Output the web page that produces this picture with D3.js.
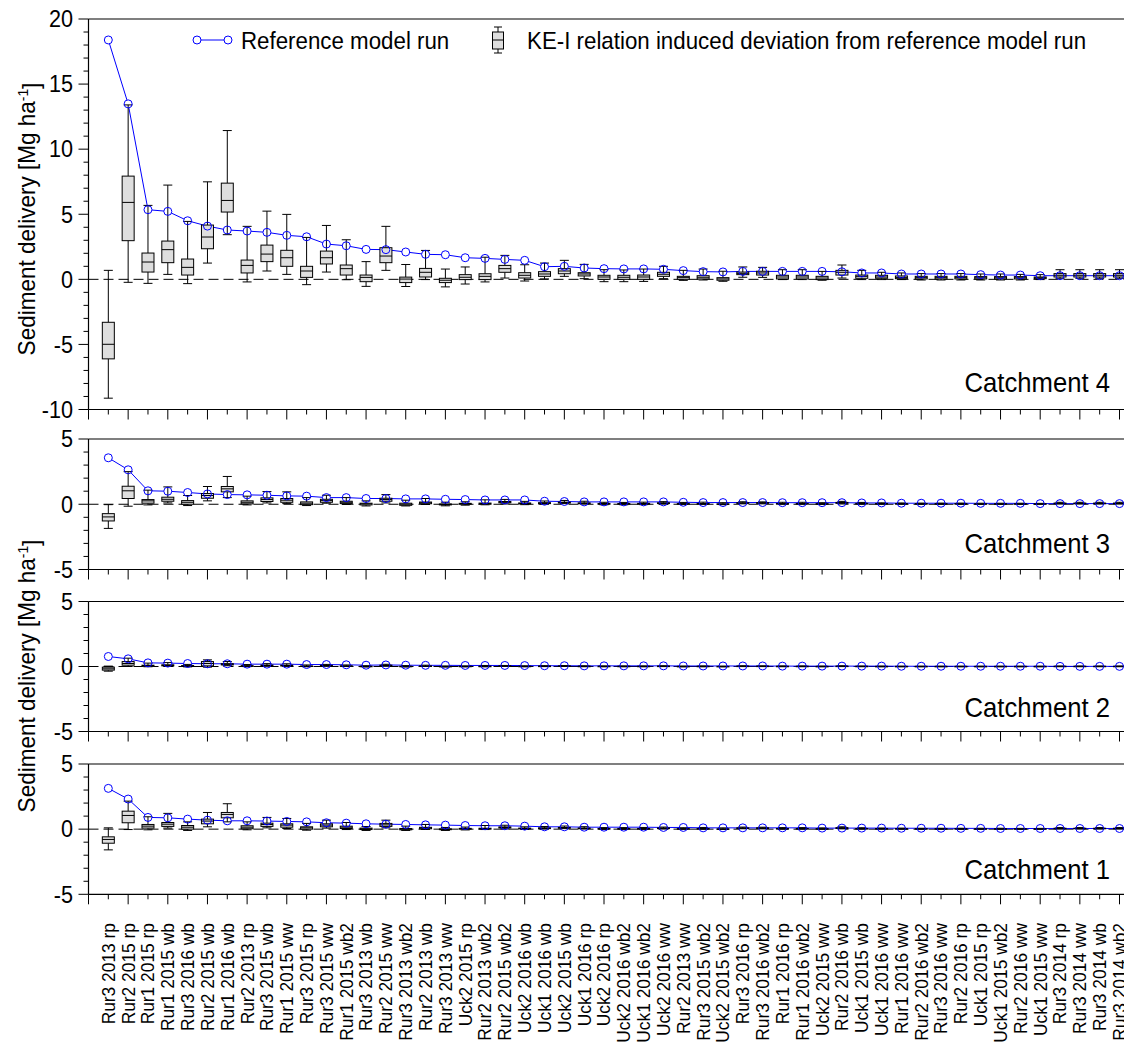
<!DOCTYPE html>
<html>
<head>
<meta charset="utf-8">
<script src="https://cdn.jsdelivr.net/npm/d3@7"></script>
<style>
  html, body { margin: 0; padding: 0; background: #fff; }
  svg { display: block; }
  text { font-family: "Liberation Sans", Arial, sans-serif; fill: #000; }
</style>
</head>
<body>
<svg id="chart" width="1124" height="1043"></svg>
<script>
// Crop/field labels along the shared x axis
const categories = [
  "Rur3 2013 rp", "Rur2 2015 rp", "Rur1 2015 rp", "Rur1 2015 wb", "Rur3 2016 wb",
  "Rur2 2015 wb", "Rur1 2016 wb", "Rur2 2013 rp", "Rur3 2015 wb", "Rur1 2015 ww",
  "Rur3 2015 rp", "Rur3 2015 ww", "Rur1 2015 wb2", "Rur3 2013 wb", "Rur2 2015 ww",
  "Rur3 2013 wb2", "Rur2 2013 wb", "Rur3 2013 ww", "Uck2 2015 rp", "Rur2 2013 wb2",
  "Rur2 2015 wb2", "Uck2 2016 wb", "Uck1 2016 wb", "Uck2 2015 wb", "Uck1 2016 rp",
  "Uck2 2016 rp", "Uck2 2016 wb2", "Uck1 2016 wb2", "Uck2 2016 ww", "Rur2 2013 ww",
  "Rur3 2015 wb2", "Uck2 2015 wb2", "Rur3 2016 rp", "Rur3 2016 wb2", "Rur1 2016 rp",
  "Rur1 2016 wb2", "Uck2 2015 ww", "Rur2 2016 wb", "Uck1 2015 wb", "Uck1 2016 ww",
  "Rur1 2016 ww", "Rur2 2016 wb2", "Rur3 2016 ww", "Rur2 2016 rp", "Uck1 2015 rp",
  "Uck1 2015 wb2", "Rur2 2016 ww", "Uck1 2015 ww", "Rur3 2014 rp", "Rur3 2014 ww",
  "Rur3 2014 wb", "Rur3 2014 wb2"
];

const panelNames = ["Catchment 4", "Catchment 3", "Catchment 2", "Catchment 1"];

// Reference model run, sediment delivery [Mg ha-1]
const refC4 = [18.39, 13.48, 5.35, 5.22, 4.50, 4.09, 3.79, 3.71, 3.61, 3.38, 3.27, 2.71, 2.58, 2.30, 2.28, 2.10,
  1.92, 1.89, 1.66, 1.61, 1.53, 1.46, 0.97, 1.00, 0.87, 0.82, 0.80, 0.80, 0.77, 0.67, 0.59, 0.57,
  0.61, 0.61, 0.61, 0.61, 0.61, 0.58, 0.49, 0.49, 0.41, 0.41, 0.41, 0.41, 0.36, 0.33, 0.33, 0.28,
  0.28, 0.28, 0.28, 0.28];
const refC3 = [3.56, 2.64, 1.03, 1.00, 0.90, 0.79, 0.74, 0.72, 0.69, 0.64, 0.62, 0.51, 0.51, 0.44, 0.44, 0.41,
  0.41, 0.38, 0.36, 0.33, 0.33, 0.33, 0.23, 0.21, 0.18, 0.18, 0.18, 0.18, 0.18, 0.15, 0.13, 0.13,
  0.13, 0.13, 0.12, 0.12, 0.12, 0.12, 0.10, 0.10, 0.08, 0.08, 0.08, 0.08, 0.07, 0.07, 0.07, 0.05,
  0.05, 0.05, 0.05, 0.05];
const refC2 = [0.77, 0.59, 0.28, 0.26, 0.23, 0.21, 0.21, 0.18, 0.18, 0.18, 0.15, 0.15, 0.13, 0.10, 0.12, 0.10,
  0.09, 0.09, 0.08, 0.08, 0.08, 0.07, 0.06, 0.06, 0.05, 0.05, 0.05, 0.05, 0.05, 0.04, 0.04, 0.04,
  0.04, 0.04, 0.03, 0.03, 0.03, 0.03, 0.03, 0.03, 0.02, 0.02, 0.02, 0.02, 0.02, 0.02, 0.02, 0.02,
  0.01, 0.01, 0.01, 0.01];
const refC1 = [3.13, 2.31, 0.90, 0.87, 0.77, 0.69, 0.64, 0.64, 0.62, 0.59, 0.56, 0.49, 0.46, 0.41, 0.38, 0.36,
  0.33, 0.31, 0.28, 0.26, 0.26, 0.23, 0.18, 0.18, 0.15, 0.15, 0.15, 0.15, 0.13, 0.13, 0.10, 0.10,
  0.10, 0.10, 0.10, 0.10, 0.08, 0.08, 0.08, 0.08, 0.07, 0.07, 0.07, 0.06, 0.06, 0.05, 0.05, 0.05,
  0.05, 0.05, 0.05, 0.05];

// KE-I relation induced deviation: [whisker low, q1, median, q3, whisker high]
const boxC4 = [
  [-9.13, -6.11, -4.99, -3.30, 0.69], [-0.23, 2.97, 5.91, 7.93, 13.40], [-0.31, 0.56, 1.33, 2.02, 5.68],
  [0.38, 1.28, 2.28, 2.94, 7.24], [-0.33, 0.33, 0.92, 1.56, 4.45], [1.25, 2.35, 3.25, 4.17, 7.49],
  [3.43, 5.17, 6.06, 7.39, 11.43], [-0.20, 0.49, 1.07, 1.48, 4.07], [0.64, 1.36, 1.94, 2.63, 5.24],
  [0.38, 1.00, 1.66, 2.23, 4.99], [-0.41, 0.15, 0.64, 1.00, 3.22], [0.56, 1.18, 1.66, 2.17, 4.14],
  [-0.03, 0.33, 0.82, 1.10, 3.04], [-0.54, -0.18, 0.15, 0.33, 1.36], [0.69, 1.28, 1.79, 2.43, 4.07],
  [-0.55, -0.25, 0.02, 0.17, 1.14], [-0.02, 0.18, 0.54, 0.84, 2.22], [-0.58, -0.25, -0.07, 0.08, 0.79],
  [-0.36, -0.02, 0.16, 0.36, 0.95], [-0.20, -0.02, 0.23, 0.43, 1.70], [0.10, 0.54, 0.82, 1.07, 1.84],
  [-0.13, 0.10, 0.31, 0.51, 1.12], [0.03, 0.23, 0.41, 0.59, 1.25], [0.23, 0.43, 0.64, 0.82, 1.46],
  [0.05, 0.26, 0.41, 0.51, 1.15], [-0.18, 0.00, 0.18, 0.31, 0.74], [-0.18, 0.00, 0.16, 0.31, 0.72],
  [-0.16, 0.00, 0.18, 0.33, 0.79], [0.05, 0.23, 0.39, 0.54, 1.00], [-0.08, 0.00, 0.13, 0.23, 0.69],
  [-0.05, 0.03, 0.16, 0.28, 0.79], [-0.15, -0.07, 0.03, 0.13, 0.62], [0.16, 0.36, 0.46, 0.56, 0.95],
  [0.15, 0.33, 0.49, 0.62, 0.92], [-0.02, 0.03, 0.18, 0.31, 0.74], [-0.02, 0.03, 0.18, 0.31, 0.74],
  [-0.07, -0.02, 0.10, 0.23, 0.61], [0.10, 0.33, 0.54, 0.69, 1.10], [-0.02, 0.08, 0.23, 0.33, 0.69],
  [-0.02, 0.08, 0.18, 0.31, 0.54], [-0.02, 0.05, 0.15, 0.26, 0.49], [-0.05, 0.03, 0.13, 0.23, 0.44],
  [-0.05, 0.03, 0.13, 0.23, 0.44], [-0.05, 0.03, 0.13, 0.23, 0.44], [-0.05, 0.03, 0.12, 0.21, 0.41],
  [-0.05, 0.03, 0.12, 0.21, 0.41], [-0.05, 0.03, 0.12, 0.21, 0.38], [-0.02, 0.05, 0.12, 0.18, 0.36],
  [0.08, 0.18, 0.31, 0.44, 0.74], [0.08, 0.18, 0.31, 0.44, 0.74], [0.08, 0.18, 0.31, 0.44, 0.74],
  [0.08, 0.18, 0.31, 0.44, 0.74]
];
const boxC3 = [
  [-1.85, -1.28, -0.97, -0.72, -0.03], [-0.15, 0.44, 1.03, 1.38, 2.50], [-0.05, 0.08, 0.26, 0.36, 1.08],
  [0.10, 0.23, 0.38, 0.54, 1.33], [-0.10, 0.00, 0.15, 0.28, 0.67], [0.26, 0.46, 0.67, 0.82, 1.36],
  [0.51, 0.95, 1.18, 1.36, 2.13], [-0.05, 0.03, 0.15, 0.26, 0.62], [0.10, 0.21, 0.36, 0.49, 0.97],
  [0.05, 0.15, 0.31, 0.44, 0.95], [-0.10, -0.03, 0.08, 0.18, 0.51], [0.08, 0.15, 0.28, 0.38, 0.69],
  [-0.02, 0.05, 0.15, 0.23, 0.51], [-0.13, -0.05, 0.03, 0.08, 0.26], [0.10, 0.23, 0.36, 0.46, 0.74],
  [-0.13, -0.08, 0.00, 0.08, 0.31], [-0.02, 0.04, 0.11, 0.17, 0.44], [-0.12, -0.05, -0.01, 0.02, 0.16],
  [-0.07, 0.00, 0.03, 0.07, 0.19], [-0.04, 0.00, 0.05, 0.09, 0.34], [0.02, 0.11, 0.16, 0.21, 0.37],
  [-0.03, 0.02, 0.06, 0.10, 0.22], [0.01, 0.05, 0.08, 0.12, 0.25], [0.05, 0.09, 0.13, 0.16, 0.29],
  [0.01, 0.05, 0.08, 0.10, 0.23], [-0.04, 0.00, 0.04, 0.06, 0.15], [-0.04, 0.00, 0.03, 0.06, 0.14],
  [-0.03, 0.00, 0.04, 0.07, 0.16], [0.01, 0.05, 0.08, 0.11, 0.20], [-0.02, 0.00, 0.03, 0.05, 0.14],
  [-0.01, 0.01, 0.03, 0.06, 0.16], [-0.03, -0.01, 0.01, 0.03, 0.12], [0.03, 0.07, 0.09, 0.11, 0.19],
  [0.03, 0.07, 0.10, 0.12, 0.18], [0.00, 0.01, 0.04, 0.06, 0.15], [0.00, 0.01, 0.04, 0.06, 0.15],
  [-0.01, 0.00, 0.02, 0.05, 0.12], [0.02, 0.07, 0.11, 0.14, 0.22], [0.00, 0.02, 0.05, 0.07, 0.14],
  [0.00, 0.02, 0.04, 0.06, 0.11], [0.00, 0.01, 0.03, 0.05, 0.10], [-0.01, 0.01, 0.03, 0.05, 0.09],
  [-0.01, 0.01, 0.03, 0.05, 0.09], [-0.01, 0.01, 0.03, 0.05, 0.09], [-0.01, 0.01, 0.02, 0.04, 0.08],
  [-0.01, 0.01, 0.02, 0.04, 0.08], [-0.01, 0.01, 0.02, 0.04, 0.08], [0.00, 0.01, 0.02, 0.04, 0.07],
  [0.02, 0.04, 0.06, 0.09, 0.15], [0.02, 0.04, 0.06, 0.09, 0.15], [0.02, 0.04, 0.06, 0.09, 0.15],
  [0.02, 0.04, 0.06, 0.09, 0.15]
];
const boxC2 = [
  [-0.36, -0.28, -0.18, -0.05, 0.03], [0.00, 0.10, 0.23, 0.38, 0.64], [-0.02, 0.02, 0.06, 0.10, 0.26],
  [0.02, 0.05, 0.09, 0.13, 0.30], [-0.03, 0.00, 0.04, 0.07, 0.16], [-0.05, 0.05, 0.23, 0.38, 0.51],
  [0.06, 0.12, 0.17, 0.22, 0.38], [-0.01, 0.01, 0.04, 0.06, 0.15], [0.02, 0.05, 0.08, 0.11, 0.22],
  [0.01, 0.04, 0.07, 0.10, 0.21], [-0.02, 0.00, 0.02, 0.04, 0.12], [0.02, 0.04, 0.06, 0.09, 0.16],
  [0.00, 0.01, 0.03, 0.05, 0.12], [-0.03, -0.01, 0.01, 0.02, 0.06], [0.02, 0.05, 0.08, 0.10, 0.17],
  [-0.03, -0.02, 0.00, 0.02, 0.07], [0.00, 0.01, 0.02, 0.04, 0.10], [-0.03, -0.01, 0.00, 0.01, 0.04],
  [-0.02, 0.00, 0.01, 0.02, 0.04], [-0.01, 0.00, 0.01, 0.02, 0.08], [0.00, 0.02, 0.04, 0.05, 0.08],
  [-0.01, 0.00, 0.01, 0.02, 0.05], [0.00, 0.01, 0.02, 0.03, 0.06], [0.01, 0.02, 0.03, 0.04, 0.07],
  [0.00, 0.01, 0.02, 0.02, 0.05], [-0.01, 0.00, 0.01, 0.02, 0.04], [-0.01, 0.00, 0.01, 0.02, 0.04],
  [-0.01, 0.00, 0.01, 0.02, 0.04], [0.00, 0.01, 0.02, 0.03, 0.05], [-0.01, 0.00, 0.01, 0.01, 0.03],
  [-0.01, 0.00, 0.01, 0.02, 0.04], [-0.01, 0.00, 0.00, 0.01, 0.03], [0.00, 0.01, 0.02, 0.03, 0.05],
  [0.00, 0.01, 0.02, 0.03, 0.04], [0.00, 0.00, 0.01, 0.02, 0.04], [0.00, 0.00, 0.01, 0.02, 0.04],
  [0.00, 0.00, 0.01, 0.01, 0.03], [0.00, 0.01, 0.02, 0.03, 0.05], [0.00, 0.00, 0.01, 0.02, 0.03],
  [0.00, 0.00, 0.01, 0.01, 0.03], [0.00, 0.00, 0.01, 0.01, 0.02], [0.00, 0.00, 0.01, 0.01, 0.02],
  [0.00, 0.00, 0.01, 0.01, 0.02], [0.00, 0.00, 0.01, 0.01, 0.02], [0.00, 0.00, 0.01, 0.01, 0.02],
  [0.00, 0.00, 0.01, 0.01, 0.02], [0.00, 0.00, 0.01, 0.01, 0.02], [0.00, 0.00, 0.01, 0.01, 0.02],
  [0.00, 0.01, 0.01, 0.02, 0.03], [0.00, 0.01, 0.01, 0.02, 0.03], [0.00, 0.01, 0.01, 0.02, 0.03],
  [0.00, 0.01, 0.01, 0.02, 0.03]
];
const boxC1 = [
  [-1.59, -1.08, -0.79, -0.59, 0.10], [-0.03, 0.49, 1.05, 1.38, 2.15], [-0.05, 0.08, 0.23, 0.36, 0.95],
  [0.08, 0.21, 0.38, 0.51, 1.21], [-0.10, 0.00, 0.15, 0.28, 0.56], [0.18, 0.41, 0.62, 0.77, 1.28],
  [0.56, 0.87, 1.13, 1.28, 1.95], [-0.05, 0.03, 0.15, 0.26, 0.56], [0.10, 0.21, 0.36, 0.46, 0.90],
  [0.05, 0.15, 0.31, 0.41, 0.82], [-0.08, 0.00, 0.10, 0.18, 0.44], [0.08, 0.18, 0.31, 0.41, 0.69],
  [-0.03, 0.05, 0.15, 0.23, 0.51], [-0.10, -0.03, 0.03, 0.08, 0.20], [0.10, 0.21, 0.33, 0.44, 0.69],
  [-0.10, -0.05, 0.00, 0.05, 0.23], [-0.02, 0.03, 0.09, 0.14, 0.36], [-0.10, -0.04, -0.01, 0.02, 0.13],
  [-0.06, 0.00, 0.03, 0.06, 0.16], [-0.03, 0.00, 0.04, 0.07, 0.28], [0.02, 0.09, 0.13, 0.17, 0.30],
  [-0.02, 0.02, 0.05, 0.08, 0.18], [0.01, 0.04, 0.07, 0.10, 0.20], [0.04, 0.07, 0.10, 0.13, 0.24],
  [0.01, 0.04, 0.07, 0.08, 0.19], [-0.03, 0.00, 0.03, 0.05, 0.12], [-0.03, 0.00, 0.03, 0.05, 0.12],
  [-0.03, 0.00, 0.03, 0.05, 0.13], [0.01, 0.04, 0.06, 0.09, 0.16], [-0.01, 0.00, 0.02, 0.04, 0.11],
  [-0.01, 0.01, 0.03, 0.05, 0.13], [-0.02, -0.01, 0.01, 0.02, 0.10], [0.03, 0.06, 0.08, 0.09, 0.16],
  [0.02, 0.05, 0.08, 0.10, 0.15], [0.00, 0.01, 0.03, 0.05, 0.12], [0.00, 0.01, 0.03, 0.05, 0.12],
  [-0.01, 0.00, 0.02, 0.04, 0.10], [0.02, 0.05, 0.09, 0.11, 0.18], [0.00, 0.01, 0.04, 0.05, 0.11],
  [0.00, 0.01, 0.03, 0.05, 0.09], [0.00, 0.01, 0.02, 0.04, 0.08], [-0.01, 0.00, 0.02, 0.04, 0.07],
  [-0.01, 0.00, 0.02, 0.04, 0.07], [-0.01, 0.00, 0.02, 0.04, 0.07], [-0.01, 0.00, 0.02, 0.03, 0.07],
  [-0.01, 0.00, 0.02, 0.03, 0.07], [-0.01, 0.00, 0.02, 0.03, 0.06], [0.00, 0.01, 0.02, 0.03, 0.06],
  [0.01, 0.03, 0.05, 0.07, 0.12], [0.01, 0.03, 0.05, 0.07, 0.12], [0.01, 0.03, 0.05, 0.07, 0.12],
  [0.01, 0.03, 0.05, 0.07, 0.12]
];

const yTicksTop = [-10, -5, 0, 5, 10, 15, 20];
const yTicksSmall = [-5, 0, 5];
const legendLabels = ["Reference model run", "KE-I relation induced deviation from reference model run"];
const yAxisTitle = ["Sediment delivery [Mg ha", "-1", "]"];

// ---- layout ----
const W = 1124, H = 1043;
const left = 88.5, xEnd = 1119.5;
const panels = [
  { name: panelNames[0], ref: refC4, box: boxC4, top: 19, bottom: 409.5, domain: [-10, 20], ticks: yTicksTop, labelY: 392 },
  { name: panelNames[1], ref: refC3, box: boxC3, top: 439, bottom: 569.5, domain: [-5, 5], ticks: yTicksSmall, labelY: 552.5 },
  { name: panelNames[2], ref: refC2, box: boxC2, top: 601.5, bottom: 731.5, domain: [-5, 5], ticks: yTicksSmall, labelY: 716.5 },
  { name: panelNames[3], ref: refC1, box: boxC1, top: 764, bottom: 894.3, domain: [-5, 5], ticks: yTicksSmall, labelY: 879 }
];

const BLUE = "#0000ff";
const BOXFILL = "#dedede";
const svg = d3.select("#chart");
svg.append("rect").attr("width", W).attr("height", H).attr("fill", "#fff");

const x = d3.scaleLinear().domain([0, categories.length]).range([left, xEnd]);
const idx = d3.range(1, categories.length + 1);

// text helper: horizontally condensed glyphs like the original plotting package
function label(g, txt, tx, ty, opts) {
  const o = Object.assign({ size: 22, sx: 0.92, anchor: "start", rot: 0, dy: null }, opts);
  const t = g.append("text")
    .attr("transform", `translate(${tx},${ty}) rotate(${o.rot}) scale(${o.sx},1)`)
    .attr("text-anchor", o.anchor)
    .style("font-size", o.size + "px")
    .text(txt);
  if (o.dy) t.attr("dy", o.dy);
  return t;
}

panels.forEach(p => {
  const y = d3.scaleLinear().domain(p.domain).range([p.bottom, p.top]);
  const g = svg.append("g");

  // frame: top line, left axis line, bottom axis line
  g.append("line").attr("x1", left).attr("x2", W).attr("y1", p.top).attr("y2", p.top)
    .attr("stroke", "#000").attr("stroke-width", 1.2);
  g.append("line").attr("x1", left).attr("x2", W).attr("y1", p.bottom).attr("y2", p.bottom)
    .attr("stroke", "#000").attr("stroke-width", 1.2);
  g.append("line").attr("x1", left).attr("x2", left).attr("y1", p.top).attr("y2", p.bottom)
    .attr("stroke", "#000").attr("stroke-width", 1.2);

  // y ticks: major every 5, minor every 1
  const minor = d3.range(p.domain[0], p.domain[1] + 1, 1);
  minor.forEach(v => {
    const major = v % 5 === 0;
    g.append("line").attr("x1", left - (major ? 10 : 5)).attr("x2", left)
      .attr("y1", y(v)).attr("y2", y(v)).attr("stroke", "#000").attr("stroke-width", 1);
  });
  p.ticks.forEach(v => {
    label(g, String(v), 73, y(v), { size: 23, sx: 0.94, anchor: "end", dy: "0.36em" });
  });

  // x ticks: major at even positions, minor at odd positions
  d3.range(0, categories.length + 1).forEach(i => {
    const major = i % 2 === 0;
    g.append("line").attr("x1", x(i)).attr("x2", x(i))
      .attr("y1", p.bottom).attr("y2", p.bottom + (major ? 10 : 5))
      .attr("stroke", "#000").attr("stroke-width", 1);
  });

  // zero reference line
  g.append("line").attr("x1", left).attr("x2", W).attr("y1", y(0)).attr("y2", y(0))
    .attr("stroke", "#000").attr("stroke-width", 1).attr("stroke-dasharray", "10,5");

  // reference model run: line and white markers underneath the boxes
  const lineGen = d3.line().x((d, i) => x(i + 1)).y(d => y(d));
  g.append("path").datum(p.ref).attr("d", lineGen)
    .attr("fill", "none").attr("stroke", BLUE).attr("stroke-width", 1);
  g.selectAll("circle.fill").data(p.ref).enter().append("circle")
    .attr("cx", (d, i) => x(i + 1)).attr("cy", d => y(d)).attr("r", 4)
    .attr("fill", "#fff").attr("stroke", "none");

  // box plots
  const bw = 12, cw = 9;
  const bg = g.selectAll("g.box").data(p.box).enter().append("g");
  bg.each(function (d, i) {
    const s = d3.select(this);
    const cx = x(i + 1);
    const [lo, q1, med, q3, hi] = d;
    s.append("line").attr("x1", cx).attr("x2", cx).attr("y1", y(hi)).attr("y2", y(q3))
      .attr("stroke", "#000").attr("stroke-width", 1);
    s.append("line").attr("x1", cx).attr("x2", cx).attr("y1", y(q1)).attr("y2", y(lo))
      .attr("stroke", "#000").attr("stroke-width", 1);
    s.append("line").attr("x1", cx - cw / 2).attr("x2", cx + cw / 2).attr("y1", y(hi)).attr("y2", y(hi))
      .attr("stroke", "#000").attr("stroke-width", 1);
    s.append("line").attr("x1", cx - cw / 2).attr("x2", cx + cw / 2).attr("y1", y(lo)).attr("y2", y(lo))
      .attr("stroke", "#000").attr("stroke-width", 1);
    s.append("rect").attr("x", cx - bw / 2).attr("width", bw)
      .attr("y", y(q3)).attr("height", Math.max(0.5, y(q1) - y(q3)))
      .attr("fill", BOXFILL).attr("stroke", "#000").attr("stroke-width", 1);
    s.append("line").attr("x1", cx - bw / 2).attr("x2", cx + bw / 2).attr("y1", y(med)).attr("y2", y(med))
      .attr("stroke", "#000").attr("stroke-width", 1);
  });

  // marker outlines on top
  g.selectAll("circle.ring").data(p.ref).enter().append("circle")
    .attr("cx", (d, i) => x(i + 1)).attr("cy", d => y(d)).attr("r", 4)
    .attr("fill", "none").attr("stroke", BLUE).attr("stroke-width", 1);

  // panel name
  label(g, p.name, 1110, p.labelY, { size: 28.5, sx: 0.9, anchor: "end" });
});

// category labels, rotated
idx.forEach(i => {
  label(svg, categories[i - 1], x(i), 923, { size: 18.3, sx: 0.95, anchor: "end", rot: -90, dy: "0.35em" });
});

// y-axis titles
function yTitle(cy) {
  const t = svg.append("text")
    .attr("transform", `translate(35,${cy}) rotate(-90) scale(0.92,1)`)
    .attr("text-anchor", "middle")
    .style("font-size", "24.5px");
  t.append("tspan").text(yAxisTitle[0]);
  t.append("tspan").attr("dy", "-0.45em").style("font-size", "15px").text(yAxisTitle[1]);
  t.append("tspan").attr("dy", "0.45em").text(yAxisTitle[2]);
}
yTitle(219);
yTitle(676);

// legend
const lg = svg.append("g");
lg.append("line").attr("x1", 197).attr("x2", 228).attr("y1", 40).attr("y2", 40)
  .attr("stroke", BLUE).attr("stroke-width", 1);
[197, 228].forEach(cx => lg.append("circle").attr("cx", cx).attr("cy", 40).attr("r", 4)
  .attr("fill", "#fff").attr("stroke", BLUE).attr("stroke-width", 1));
label(lg, legendLabels[0], 241, 49, { size: 24, sx: 0.93 });
lg.append("line").attr("x1", 498).attr("x2", 498).attr("y1", 27).attr("y2", 53).attr("stroke", "#000");
lg.append("line").attr("x1", 494).attr("x2", 502).attr("y1", 27).attr("y2", 27).attr("stroke", "#000");
lg.append("line").attr("x1", 494).attr("x2", 502).attr("y1", 53).attr("y2", 53).attr("stroke", "#000");
lg.append("rect").attr("x", 492.5).attr("y", 32).attr("width", 11).attr("height", 17)
  .attr("fill", BOXFILL).attr("stroke", "#000");
lg.append("line").attr("x1", 492.5).attr("x2", 503.5).attr("y1", 40).attr("y2", 40).attr("stroke", "#000");
label(lg, legendLabels[1], 527, 49, { size: 24, sx: 0.93 });
</script>
</body>
</html>
